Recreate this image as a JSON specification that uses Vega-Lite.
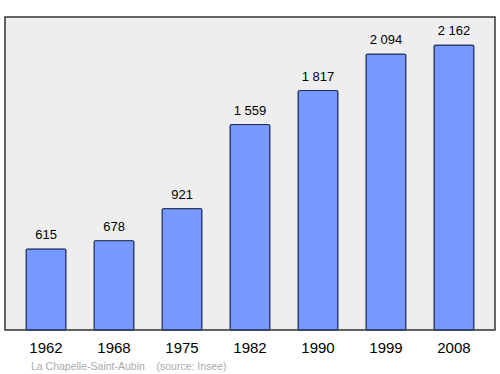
{
  "$schema": "https://vega.github.io/schema/vega-lite/v6.json",
  "width": 490,
  "height": 313,
  "autosize": {"type": "none"},
  "padding": {"left": 5, "top": 17, "right": 5, "bottom": 44},
  "background": "white",
  "config": {
    "font": "Liberation Sans",
    "view": {"fill": "#eeeeee", "stroke": "#333333", "strokeWidth": 1.5},
    "locale": {"number": {"decimal": ",", "thousands": " ", "grouping": [3], "currency": ["", " €"]}}
  },
  "title": {
    "text": "La Chapelle-Saint-Aubin\u00a0\u00a0\u00a0\u00a0(source: Insee)",
    "orient": "bottom",
    "anchor": "start",
    "offset": 7,
    "dx": 26,
    "fontSize": 10.5,
    "fontWeight": "normal",
    "color": "#aaaaaa",
    "font": "Liberation Sans"
  },
  "data": {
    "values": [
      {"year": "1962", "pop": 615},
      {"year": "1968", "pop": 678},
      {"year": "1975", "pop": 921},
      {"year": "1982", "pop": 1559},
      {"year": "1990", "pop": 1817},
      {"year": "1999", "pop": 2094},
      {"year": "2008", "pop": 2162}
    ]
  },
  "encoding": {
    "x": {
      "field": "year",
      "type": "nominal",
      "sort": null,
      "scale": {"paddingInner": 0.413, "paddingOuter": 0.31},
      "axis": {"title": null, "domain": false, "ticks": false, "labelAngle": 0, "labelFontSize": 15, "labelColor": "#000000", "labelPadding": 10}
    },
    "y": {
      "field": "pop",
      "type": "quantitative",
      "scale": {"domain": [0, 2375], "nice": false},
      "axis": null
    }
  },
  "layer": [
    {
      "mark": {"type": "bar", "fill": "#7799ff", "stroke": "#1a2a55", "strokeWidth": 1, "cornerRadius": 1}
    },
    {
      "mark": {"type": "text", "dy": -7, "baseline": "bottom", "fontSize": 13, "color": "#000000"},
      "encoding": {"text": {"field": "pop", "type": "quantitative", "format": ",d"}}
    }
  ]
}
